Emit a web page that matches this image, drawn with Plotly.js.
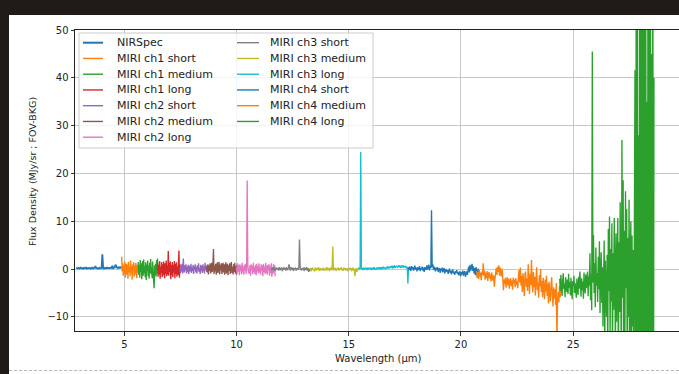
<!DOCTYPE html>
<html>
<head>
<meta charset="utf-8">
<script src="https://cdn.plot.ly/plotly-3.0.1.min.js"></script>
<style>
html,body{margin:0;padding:0;width:679px;height:374px;overflow:hidden;background:#1f1b19;}
#panel{position:absolute;left:9px;top:15px;width:670px;height:359px;background:#ffffff;}
#dash{position:absolute;left:9px;top:370px;width:670px;height:0;border-top:1px dashed #b8b8b8;}
#chart{position:absolute;left:0;top:0;width:682px;height:374px;}
</style>
</head>
<body>
<div id="panel"></div>
<div id="dash"></div>
<div id="chart"></div>
<script>
// ---- data ----
const seriesNames = ["NIRSpec","MIRI ch1 short","MIRI ch1 medium","MIRI ch1 long","MIRI ch2 short","MIRI ch2 medium","MIRI ch2 long","MIRI ch3 short","MIRI ch3 medium","MIRI ch3 long","MIRI ch4 short","MIRI ch4 medium","MIRI ch4 long"];
const seriesColors = ["#1f77b4","#ff7f0e","#2ca02c","#d62728","#9467bd","#8c564b","#e377c2","#7f7f7f","#bcbd22","#17becf","#1f77b4","#ff7f0e","#2ca02c"];
const lamStart = [2.85, 4.88, 5.62, 6.48, 7.48, 8.67, 10.00, 11.55, 13.27, 15.42, 17.65, 20.70, 24.40];
const lamEnd   = [4.88, 5.65, 6.48, 7.50, 8.67, 10.02, 11.72, 13.27, 15.42, 17.72, 20.88, 24.45, 28.60];

const nirspec = [0.1,0.2,0.15,0.25,0.1,0.2,0.3,0.15,0.2,0.1,
 0.25,0.15,0.2,0.3,0.1,0.2,0.15,0.25,0.2,0.1,
 0.2,0.3,0.15,0.2,0.25,0.6,0.2,0.15,0.2,0.1,
 0.25,0.2,0.15,0.3,3.1,0.2,0.1,0.25,0.15,0.2,
 0.3,0.2,0.15,0.25,0.2,0.3,0.25,0.7,0.2,0.3,
 0.35,0.9,0.6,0.3,0.2,0.35,0.25,0.4,0.3,0.2];
const ch1Short = [2.6,-0.5,1.2,-1.4,0.8,-0.9,1.6,-1.8,0.4,1.1,-1.2,0.9,-2.0,1.5,-0.6,0.3,-1.5,1.8,-0.8,0.6,-2.2,1.0,-0.3,1.4,-1.6,0.7,-1.1,1.3,-0.4,-1.9,0.9,-0.7,1.2,-0.5];
const ch1Medium = [1.5,-1.2,0.8,-1.8,1.9,-0.6,1.2,-2.1,0.5,1.7,
 -1.4,2.0,-0.9,0.6,-1.7,1.4,-2.3,0.9,-0.4,1.8,
 -1.5,0.7,-2.0,1.3,-0.8,2.1,-1.1,0.4,-1.9,1.6,
 -0.7,-2.4,-4.0,0.8,-1.3,1.1,-1.6,1.9,-0.9,2.2];
const ch1Long = [1.4,-1.6,0.9,-1.2,1.7,-2.0,0.5,-0.8,1.5,-1.7,
 1.0,-1.3,1.6,-0.5,-1.9,1.2,-1.0,1.8,-1.5,0.7,
 -1.1,3.8,-1.4,1.3,-0.6,1.6,-2.1,0.8,-1.2,1.5,
 -1.7,0.9,-0.7,1.7,-1.9,1.1,-1.0,1.4,-1.6,0.6,
 -1.3,1.2,3.9,-1.8,1.0,-0.9];
const ch2Short = [0.3,-0.8,0.9,-0.5,1.1,-0.9,2.2,0.4,-0.7,0.8,
 -0.3,1.0,-0.9,0.5,-0.6,0.9,-1.0,0.3,0.7,-0.5,
 1.1,-0.8,0.4,-0.4,0.9,-1.0,0.6,-0.2,1.0,-0.7,
 0.5,-0.9,0.8,-0.3,1.2,-0.6,0.2,-1.0,0.9,-0.4,
 0.7,-0.8,1.0,-0.5,0.6,-0.9,1.3,-0.2,0.8,-0.6];
const ch2Medium = [0.5,-0.7,1.0,-1.1,0.8,-0.4,1.2,-0.9,0.3,1.3,
 -0.6,0.9,4.2,-1.0,0.7,-0.5,1.1,-1.2,0.6,1.4,
 -0.8,0.4,1.5,-1.1,0.9,-0.3,1.2,-1.0,0.5,1.3,
 -0.7,1.0,-1.2,0.6,1.4,-0.9,0.3,1.1,-1.3,0.8,
 -0.4,1.2,-1.0,0.7,1.5,-0.8,0.5,-1.1,1.0,-0.6,
 1.3,-0.9,0.6,-1.2,0.9];
const ch2Long = [0.4,-0.9,1.2,-0.6,0.8,-1.3,1.0,-0.4,0.7,-1.1,
 1.3,-0.7,0.5,-1.2,0.9,-0.3,1.1,-1.0,0.6,18.5,
 1.2,-0.5,-0.8,-0.9,0.8,-1.4,1.0,-0.2,0.7,-1.1,
 1.3,-0.6,0.4,-1.0,0.9,-1.3,1.1,-0.5,0.6,-0.9,
 1.2,-0.7,0.3,-1.2,1.0,-0.4,0.8,-1.5,1.1,-0.6,
 0.5,-1.0,1.3,-0.8,0.7,-1.2,0.9,-0.3,1.0,-1.4,
 0.6,-0.8,1.2,-1.6,0.4,-1.0,1.1,-0.7,0.8,-1.5];
const ch3Short = [0.2,-0.3,0.1,0.4,-0.2,0.3,-0.4,0.1,0.3,-0.1,
 0.2,-0.3,0.4,0.0,-0.2,0.3,0.1,-0.4,0.2,0.3,
 -0.1,0.2,-0.3,0.4,0.0,-0.2,0.3,1.0,0.2,-0.3,
 0.4,0.1,-0.2,0.3,-0.4,0.2,0.0,0.3,-0.3,0.2,
 -0.1,0.3,-0.2,6.2,0.4,0.1,-0.3,0.2,-0.1,0.3,
 -0.4,0.2,0.1,-0.2,0.4,-0.3,0.2,-0.6,0.1,-0.5];
const ch3Medium = [-0.1,0.2,-0.4,0.1,0.3,-0.2,0.0,-0.5,0.3,0.1,
 -0.3,0.2,-0.1,0.4,-0.4,0.0,0.2,-0.3,0.1,-0.2,
 0.3,-0.4,0.1,-0.1,0.2,-0.3,0.4,-0.2,0.0,0.2,
 -0.4,0.1,0.3,-0.2,0.0,4.7,-0.3,0.2,-0.1,0.3,
 -0.4,0.1,-0.2,0.3,0.0,-0.3,0.2,-0.1,0.4,-0.2,
 0.1,-0.4,0.3,-0.1,0.2,-0.3,0.0,0.2,-0.4,0.1,
 -0.2,0.3,-0.1,0.2,-0.4,0.0,0.3,-0.3,0.1,-1.5,
 -0.2,0.2,-0.6,0.1,-0.3];
const ch3Long = [0.1,0.3,-0.1,0.2,24.5,0.0,0.2,-0.2,0.3,0.1,
 -0.1,0.2,0.0,0.3,-0.2,0.1,0.3,-0.1,0.2,0.0,
 0.3,-0.2,0.1,0.2,-0.1,0.4,0.0,0.2,-0.2,0.3,
 0.1,0.4,-0.1,0.2,0.3,0.0,0.4,-0.1,0.3,0.2,
 0.5,0.1,0.3,-0.1,0.4,0.2,0.6,0.1,0.3,0.5,
 0.2,0.6,0.3,0.7,0.1,0.5,0.4,0.8,0.2,0.6,
 0.4,0.7,0.3,0.6,0.8,0.4,0.7,0.2,0.6,0.5,
 0.8,0.3,0.6,0.4,0.7,0.2,0.5,0.3,-3.0,0.4,
 0.2,0.5];
const ch4Short = [0.3,-0.2,0.5,0.1,-0.4,0.6,0.0,0.4,-0.3,0.2,
 0.7,-0.1,0.3,-0.5,0.4,0.1,-0.2,0.6,-0.4,0.2,
 0.0,0.5,-0.3,0.3,-0.6,0.4,0.1,-0.2,0.8,-0.1,
 0.5,0.9,-0.3,0.6,0.2,12.3,0.4,1.0,-0.2,0.5,
 0.1,-0.5,0.3,-0.2,0.4,-0.6,0.0,0.2,-0.8,0.1,
 -0.4,0.3,-0.7,-0.1,0.2,-0.9,-0.3,0.0,-0.6,-0.2,
 -1.0,-0.4,0.1,-0.8,-0.3,-1.1,-0.5,-0.1,-0.9,-0.6,
 -1.2,-0.4,-0.8,-0.2,-1.0,-0.7,-1.3,-0.5,-0.9,-1.5,
 -0.6,-1.1,-0.3,-1.4,-0.8,-0.4,-1.6,-1.0,-0.5,-1.2,
 -0.2,0.5,-0.7,0.9,-0.3,0.3,1.1,-0.4,0.6,-0.9,
 0.2,-1.3,0.4,-0.6,-1.8,0.1,-1.0,-0.4,-1.5,-0.8];
const ch4Medium = [-0.4,-1.8,-0.6,-2.1,-0.2,-1.5,-0.9,-2.3,-0.5,-1.2,
 1.2,-1.4,-0.3,-2.2,-0.8,-1.9,-0.4,-2.5,-1.0,-0.6,
 -2.0,-1.1,-2.6,-0.7,-1.7,-2.4,-1.3,-3.7,-2.1,-0.9,
 0.2,-1.2,0.5,-0.6,0.8,-1.4,0.3,-0.8,-1.6,0.1,
 -1.9,-4.4,-2.2,-3.1,-1.8,-3.9,-2.5,-1.7,-3.4,-2.0,
 -4.1,-2.7,-1.9,-3.6,-2.4,-4.3,-1.8,-3.0,-2.2,-3.8,
 -1.9,-3.3,-2.6,-4.0,-1.5,-0.2,-2.8,0.3,-3.5,-1.4,
 -4.8,-0.8,-2.9,-5.6,-1.2,-0.5,-3.7,-2.0,-4.6,1.0,
 -2.4,-5.2,-1.0,-3.3,1.9,-2.7,-4.9,-0.6,-3.8,-1.6,
 -5.5,-2.1,0.4,-4.4,-2.8,-6.0,-1.3,-3.6,0.0,-4.8,
 -2.5,-5.9,-1.8,-3.9,-6.3,-2.2,-4.7,-1.4,-5.6,-3.0,
 -7.2,-2.6,-4.9,-6.8,-3.3,-1.7,-5.4,-7.8,-3.8,-6.1,
 -4.2,-7.5,-2.9,-15.0,-6.4,-4.8,-7.0,-3.5,-5.9,-4.0];
const ch4Long = [-2.0,-4.5,-1.2,-3.8,-5.6,-2.4,-0.9,-4.2,-3.0,-5.9,
 -1.7,-3.5,-4.8,-2.2,-5.2,-1.0,-3.9,-2.7,-5.5,-1.8,
 -4.3,-6.3,-2.5,-3.6,-1.4,-5.0,-2.9,-4.6,-6.0,-2.0,
 -3.3,-5.4,-1.6,-4.1,-0.5,-3.0,-5.8,-1.9,-4.4,-2.6,
 -6.2,-0.7,-3.7,-5.1,-1.1,-4.0,-2.3,-0.5,-5.7,-1.5,
 -3.4,3.3,-6.5,-1.0,-8.6,45.5,-2.8,7.1,-5.0,1.2,
 -8.0,4.5,-3.5,-0.8,-6.9,2.6,-4.2,5.8,-9.2,-1.6,
 3.5,-7.1,0.4,-12.0,-2.5,6.0,-16.0,1.8,-5.3,-10.0,
 3.0,-18.0,8.4,-4.6,11.0,-14.0,4.2,-6.8,9.6,-20.0,
 3.3,-8.5,10.7,-2.0,-17.0,7.5,-11.0,1.4,10.7,-24.0,
 5.6,-9.0,14.0,-3.5,-19.0,27.0,-6.0,18.6,-22.0,8.0,
 -14.0,16.3,-4.0,12.5,-26.0,6.5,-10.0,14.5,-18.0,3.0,
 10.0,-30.0,7.0,-12.0,4.0,-20.0,10.0,41.6,-40.0,60.0,
 -35.0,80.0,-50.0,28.0,-60.0,90.0,-30.0,70.0,-45.0,55.0,
 -70.0,100.0,-25.0,65.0,-55.0,85.0,-40.0,35.0,-65.0,95.0,
 -30.0,75.0,-50.0,60.0,-80.0,45.0,-35.0,90.0,-60.0,40.0];
const seriesValues = [nirspec,ch1Short,ch1Medium,ch1Long,ch2Short,ch2Medium,ch2Long,ch3Short,ch3Medium,ch3Long,ch4Short,ch4Medium,ch4Long];

const xTickVals = [5,10,15,20,25,30];
const yTickVals = [-10,0,10,20,30,40,50];

// ---- layout geometry (pixels) ----
const ML = 75, MT = 30, PW = 606, PH = 301;
const px = x => (x - ML) / PW;
const py = y => (MT + PH - y) / PH;
const FONT = "DejaVu Sans, Liberation Sans, sans-serif";

const traces = seriesValues.map((vals, k) => {
  const n = vals.length, a = lamStart[k], b = lamEnd[k];
  return {
    type: "scatter", mode: "lines",
    x: vals.map((_, i) => a + i * (b - a) / (n - 1)),
    y: vals,
    name: seriesNames[k],
    line: {color: seriesColors[k], width: k === 0 ? 1.8 : 1.35, simplify: false},
    hoverinfo: "skip"
  };
});

// manual two-column legend (matplotlib style)
const shapes = [{
  type: "rect", xref: "paper", yref: "paper", layer: "above",
  x0: px(79), x1: px(373), y0: py(148), y1: py(33),
  fillcolor: "rgba(255,255,255,0.8)", line: {color: "#cccccc", width: 1}
}];
const annotations = [];
seriesNames.forEach((nm, k) => {
  const col = k < 7 ? 0 : 1;
  const row = k < 7 ? k : k - 7;
  const yy = 42.7 + 15.75 * row;
  const lx0 = col === 0 ? 83 : 237, lx1 = col === 0 ? 103 : 259, tx = col === 0 ? 115 : 267.5;
  shapes.push({type: "line", xref: "paper", yref: "paper", layer: "above",
    x0: px(lx0), x1: px(lx1), y0: py(yy), y1: py(yy),
    line: {color: seriesColors[k], width: k === 0 ? 2 : 1.4}});
  annotations.push({xref: "paper", yref: "paper", x: px(tx), y: py(yy),
    xanchor: "left", yanchor: "middle", showarrow: false, text: nm,
    font: {family: FONT, size: 11, color: "#222"}});
});
annotations.push({xref: "paper", yref: "paper", x: 0.5, y: py(358), xanchor: "center", yanchor: "middle",
  showarrow: false, text: "Wavelength (µm)", font: {family: FONT, size: 10, color: "#222"}});
annotations.push({xref: "paper", yref: "paper", x: px(32), y: py(172), xanchor: "center", yanchor: "middle",
  textangle: -90, showarrow: false, text: "Flux Density (MJy/sr ; FOV-BKG)", font: {family: FONT, size: 9.5, color: "#222"}});

const axisCommon = {
  showgrid: true, gridcolor: "#c2c2c2", gridwidth: 0.9, zeroline: false,
  showline: true, linecolor: "#222", linewidth: 1, mirror: true,
  ticks: "outside", ticklen: 3.5, tickwidth: 0.9, tickcolor: "#222",
  tickfont: {family: FONT, size: 10, color: "#222"}
};

const layout = {
  width: 682, height: 374,
  margin: {l: ML, r: 1, t: MT, b: 374 - MT - PH, pad: 0},
  paper_bgcolor: "rgba(0,0,0,0)", plot_bgcolor: "#ffffff",
  showlegend: false,
  font: {family: FONT, size: 10, color: "#222"},
  xaxis: Object.assign({}, axisCommon, {range: [2.80, 29.805], tickmode: "array", tickvals: xTickVals}),
  yaxis: Object.assign({}, axisCommon, {range: [-12.95, 50], tickmode: "array", tickvals: yTickVals}),
  shapes: shapes,
  annotations: annotations
};

Plotly.newPlot("chart", traces, layout, {displayModeBar: false, staticPlot: true});
</script>
</body>
</html>
